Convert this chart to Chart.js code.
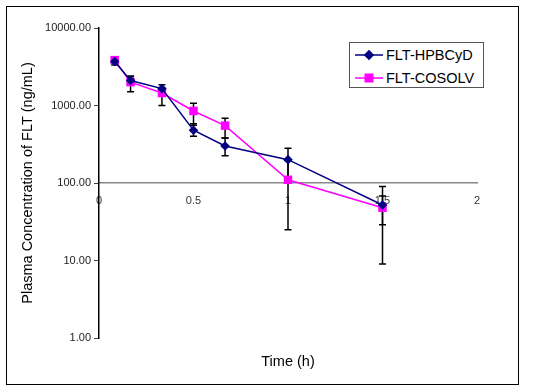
<!DOCTYPE html>
<html>
<head>
<meta charset="utf-8">
<script src="https://cdn.jsdelivr.net/npm/chart.js@4"></script>
<style>
  body { margin: 0; background: #fff; font-family: "Liberation Sans", Arial, sans-serif; }
  #frame { position: absolute; left: 6px; top: 6px; width: 513px; height: 379px; box-sizing: border-box; border: 1px solid #000; }
  #chart { display: block; }
  #legend { position: absolute; left: 349px; top: 42px; width: 135px; height: 46px; box-sizing: border-box; border: 1px solid #555; background: #fff; }
  .row { position: absolute; left: 5px; height: 20px; display: flex; align-items: center; font-size: 14.5px; color: #000; white-space: nowrap; }
  .row svg { margin-right: 3px; }
</style>
</head>
<body>
<div id="frame"><canvas id="chart" width="511" height="377"></canvas></div>
<div id="legend"></div>
<script>
const times = [0.083, 0.167, 0.333, 0.5, 0.667, 1, 1.5];
const seriesNames = ['FLT-HPBCyD', 'FLT-COSOLV'];
const hpbcydMean = [3700, 2100, 1650, 480, 300, 200, 52];
const hpbcydPlus = [300, 300, 200, 100, 80, 80, 38];
const hpbcydMinus = [370, 250, 200, 80, 75, 80, 23];
const cosolvMean = [3850, 2000, 1450, 850, 550, 110, 48];
const cosolvPlus = [150, 350, 250, 220, 135, 85, 20];
const cosolvMinus = [200, 500, 450, 295, 170, 85, 39];
const yTicks = [1, 10, 100, 1000, 10000];
const xTicks = [0, 0.5, 1, 1.5, 2];

const FONT = '"Liberation Sans", Arial, sans-serif';
const NAVY = '#000080';
const MAGENTA = '#ff00ff';

const series = [
  { name: seriesNames[0], mean: hpbcydMean, plus: hpbcydPlus, minus: hpbcydMinus, color: NAVY, style: 'rectRot', r: 4.8 },
  { name: seriesNames[1], mean: cosolvMean, plus: cosolvPlus, minus: cosolvMinus, color: MAGENTA, style: 'rect', r: 6 },
];

// error bars drawn underneath the lines and markers
const errorBars = {
  id: 'errorBars',
  beforeDatasetsDraw(chart) {
    const { ctx, scales: { x, y } } = chart;
    ctx.save();
    ctx.strokeStyle = '#000';
    ctx.lineWidth = 1.5;
    series.forEach(s => {
      times.forEach((t, i) => {
        const px = x.getPixelForValue(t);
        const top = y.getPixelForValue(s.mean[i] + s.plus[i]);
        const bot = y.getPixelForValue(s.mean[i] - s.minus[i]);
        ctx.beginPath();
        ctx.moveTo(px, top); ctx.lineTo(px, bot);
        ctx.moveTo(px - 3.5, top); ctx.lineTo(px + 3.5, top);
        ctx.moveTo(px - 3.5, bot); ctx.lineTo(px + 3.5, bot);
        ctx.stroke();
      });
    });
    ctx.restore();
  }
};

new Chart(document.getElementById('chart'), {
  type: 'scatter',
  data: {
    datasets: series.map(s => ({
      label: s.name,
      data: times.map((t, i) => ({ x: t, y: s.mean[i] })),
      showLine: true,
      borderColor: s.color, backgroundColor: s.color,
      borderWidth: 1.5,
      pointStyle: s.style, pointRadius: s.r, pointHoverRadius: s.r,
      pointBorderWidth: 0,
      tension: 0,
    })),
  },
  options: {
    responsive: false, animation: false,
    layout: { padding: { top: 21, right: 41, left: 0, bottom: 0 } },
    plugins: {
      legend: { display: false },
      tooltip: { enabled: false },
    },
    scales: {
      x: {
        type: 'linear', min: 0, max: 2,
        position: { y: 100 },
        afterBuildTicks: s => { s.ticks = xTicks.map(v => ({ value: v })); },
        ticks: { color: '#333', font: { family: FONT, size: 11 }, padding: 11, callback: v => String(v) },
        grid: { display: true, drawOnChartArea: false, drawTicks: false },
        border: { color: '#888', width: 1.5 },
      },
      // bottom axis that only carries the "Time (h)" title
      xt: {
        type: 'linear', axis: 'x', position: 'bottom', min: 0, max: 2,
        ticks: { display: false },
        grid: { display: false },
        border: { display: false },
        title: {
          display: true, text: 'Time (h)', color: '#000',
          font: { family: FONT, size: 14.5, weight: 'normal' },
          padding: { top: 7, bottom: 13.6 },
        },
      },
      y: {
        type: 'logarithmic', min: 1, max: 10000,
        afterBuildTicks: s => { s.ticks = yTicks.map(v => ({ value: v })); },
        afterFit: s => { s.width = 92; },
        ticks: { color: '#222', font: { family: FONT, size: 11 }, padding: 3, callback: v => Number(v).toFixed(2) },
        grid: { drawOnChartArea: false, tickLength: 5, color: '#444' },
        border: { color: '#000', width: 1.5 },
        title: {
          display: true, text: 'Plasma Concentration of FLT (ng/mL)', color: '#000',
          font: { family: FONT, size: 14.5, weight: 'normal' },
          padding: { top: 12, bottom: 0 },
        },
      },
    },
  },
  plugins: [errorBars],
});

// legend box, built from the series list
const legend = document.getElementById('legend');
series.forEach((s, i) => {
  const row = document.createElement('div');
  row.className = 'row';
  row.style.top = (2 + i * 23) + 'px';
  const mk = s.style === 'rect'
    ? '<rect x="9.5" y="5.5" width="9" height="9" fill="' + s.color + '"/>'
    : '<polygon points="14,4.8 19.2,10 14,15.2 8.8,10" fill="' + s.color + '"/>';
  row.innerHTML = '<svg width="28" height="20"><line x1="0" y1="10" x2="28" y2="10" stroke="' + s.color + '" stroke-width="1.5"/>' + mk + '</svg><span>' + s.name + '</span>';
  legend.appendChild(row);
});
</script>
</body>
</html>
